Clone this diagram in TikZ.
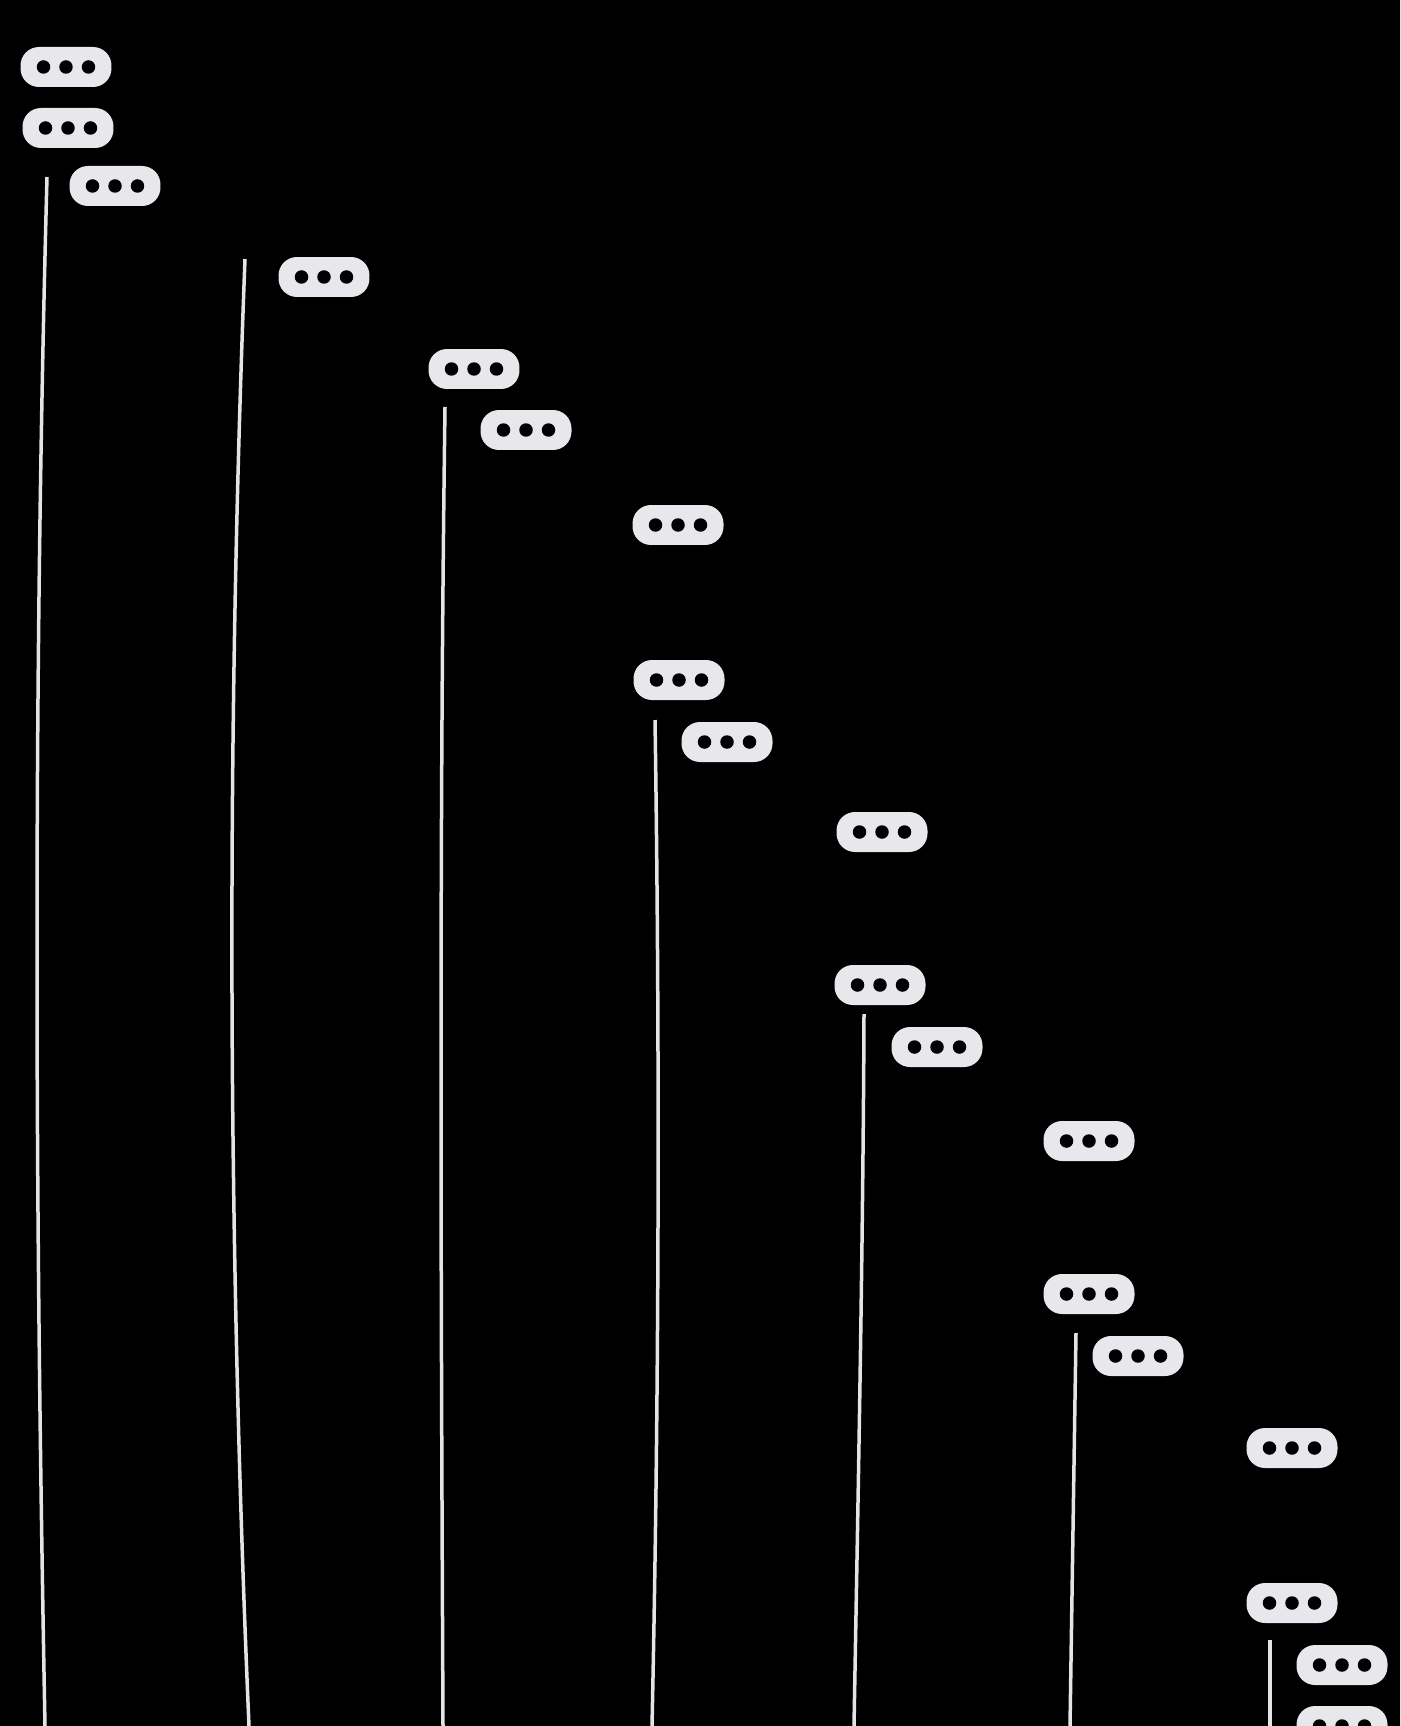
\documentclass[tikz,border=0pt]{standalone}
\usetikzlibrary{positioning,calc}
\definecolor{Board}{HTML}{000000}
\definecolor{Bubble}{HTML}{E8E8EC}
\definecolor{Wire}{HTML}{E4E4E6}
\tikzset{
  typing/.style={fill=Bubble,rounded corners=0.37cm,minimum width=1.82cm,minimum height=0.8cm,inner sep=0pt,
    path picture={\foreach \dx in {-0.45,0,0.45}
      \fill[Board] ([xshift=\dx cm]path picture bounding box.center) circle (0.135cm);}},
  lifeline/.style={draw=Wire,line width=0.07cm}
}

\begin{document}
\begin{tikzpicture}[x=0.02cm,y=-0.02cm]
  \clip (0,0) rectangle (1400,1726);
  \fill[Board] (-10,-10) rectangle (1410,1736);
  % bubbles
  \node[typing] (m1) at (66,67) {};
  \node[typing] (m2) at (68,128) {};
  \node[typing] (m3) at (115,186) {};
  \node[typing] (m4) at (324,277) {};
  \node[typing] (m5) at (474,369) {};
  \node[typing] (m6) at (526,430) {};
  \node[typing] (m7) at (678,525) {};
  \node[typing] (m8) at (679,680) {};
  \node[typing] (m9) at (727,742) {};
  \node[typing] (m10) at (882,832) {};
  \node[typing] (m11) at (880,985) {};
  \node[typing] (m12) at (937,1047) {};
  \node[typing] (m13) at (1089,1141) {};
  \node[typing] (m14) at (1089,1294) {};
  \node[typing] (m15) at (1138,1356) {};
  \node[typing] (m16) at (1292,1448) {};
  \node[typing] (m17) at (1292,1603) {};
  \node[typing] (m18) at (1342,1665) {};
  \node[typing] (m19) at (1342,1726) {};
  % lifelines
  \coordinate (t1) at (47,177);   \coordinate (b1) at (45,1726);
  \coordinate (t2) at (245,259);  \coordinate (b2) at (249,1726);
  \coordinate (t3) at (445,407);  \coordinate (b3) at (443,1726);
  \coordinate (t4) at (655,720);  \coordinate (b4) at (652,1726);
  \coordinate (t5) at (864,1014); \coordinate (b5) at (854,1726);
  \coordinate (t6) at (1076,1333); \coordinate (b6) at (1070,1726);
  \coordinate (t7) at (1270,1640); \coordinate (b7) at (1270,1726);
  \draw[lifeline] (t1) .. controls (33,700) and (35,1200) .. (b1);
  \draw[lifeline] (t2) .. controls (226,750) and (228,1240) .. (b2);
  \draw[lifeline] (t3) .. controls (439,850) and (441,1300) .. (b3);
  \draw[lifeline] (t4) .. controls (660,1050) and (659,1400) .. (b4);
  \draw[lifeline] (t5) .. controls (863,1250) and (858,1500) .. (b5);
  \draw[lifeline] (t6) -- (b6);
  \draw[lifeline] (t7) -- (b7);
\end{tikzpicture}
\end{document}
